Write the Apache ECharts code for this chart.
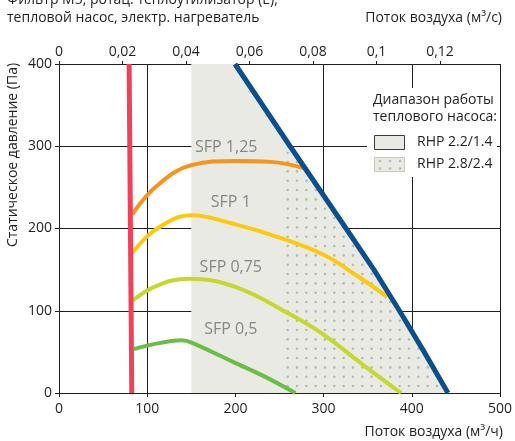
<!DOCTYPE html>
<html><head><meta charset="utf-8">
<script src="https://cdn.jsdelivr.net/npm/echarts@6/dist/echarts.min.js"></script>
<style>html,body{margin:0;padding:0;background:#fff}#c{width:515px;height:441px}</style>
</head><body><div id="c"></div>
<script>
// ---- data (m³/h, Pa) ----
const xTicks = [0, 100, 200, 300, 400, 500];
const yTicks = [0, 100, 200, 300, 400];
const topTicks = [0, 0.02, 0.04, 0.06, 0.08, 0.1, 0.12];

const redX = [79.5, 82.5];
const redY = [400, 0];

const blueX = [199.5, 262, 325.5, 357, 386, 414, 441];
const blueY = [400, 300, 200, 150, 100, 50, 0];

const bandX = [150, 199.5, 262, 325.5, 357, 386, 414, 441];
const bandY = [400, 400, 300, 200, 150, 100, 50, 0];

const dotX = [254, 262, 325.5, 357, 386, 414, 441];
const dotY = [313.5, 300, 200, 150, 100, 50, 0];

const sfp125X = [83, 110, 150, 200, 240, 282];
const sfp125Y = [217, 251, 277, 282, 281, 272];

const sfp1X = [83, 110, 150, 200, 250, 300, 340, 372];
const sfp1Y = [170, 199, 216, 205, 189, 168, 141, 117];

const sfp075X = [83, 110, 147, 200, 263, 300, 345, 388];
const sfp075Y = [112, 130, 139, 129, 95, 71, 34, 0];

const sfp05X = [85, 139, 151, 199, 235, 268];
const sfp05Y = [53.5, 64, 61, 37, 19, 0];

const sfpNames = ['SFP 1,25', 'SFP 1', 'SFP 0,75', 'SFP 0,5'];
const sfpLabelX = [189.6, 194.8, 194.8, 194.8];
const sfpLabelY = [299, 231.5, 152.6, 77];

const legendTitle = ['Диапазон работы', 'теплового насоса:'];
const legendNames = ['RHP 2.2/1.4', 'RHP 2.8/2.4'];

const titleLines = ['Фильтр M5, ротац. теплоутилизатор (E),', 'тепловой насос, электр. нагреватель'];
const topAxisName = 'Поток воздуха (м³/с)';
const bottomAxisName = 'Поток воздуха (м³/ч)';
const yAxisName = 'Статическое давление (Па)';

// ---- styling ----
const FONT = "'Open Sans', 'Noto Sans', sans-serif";
const INK = '#231f20';
const BAND = '#e9eae4';
const DOT = '#b0bfaa';

function zip(a, b) { return a.map((v, i) => [v, b[i]]); }

const pat = document.createElement('canvas');
pat.width = 28; pat.height = 28;
(function () {
  const g = pat.getContext('2d');
  g.fillStyle = DOT;
  for (let i = 0; i < 3; i++) for (let j = 0; j < 3; j++) {
    g.beginPath();
    g.arc(7.67 + i * 9.333, 3.4 + j * 9.333, 1.3, 0, Math.PI * 2);
    g.fill();
  }
})();

const chart = echarts.init(document.getElementById('c'), null, { renderer: 'canvas' });

function curve(xs, ys, color, w, s) {
  return {
    type: 'line', data: zip(xs, ys), smooth: s, symbol: 'none', z: 5,
    lineStyle: { color: color, width: w, cap: 'butt' }, silent: true, animation: false
  };
}

const option = {
  animation: false,
  grid: { left: 59, right: 11, top: 64, bottom: 48 },
  xAxis: [{
    type: 'value', position: 'bottom', min: xTicks[0], max: xTicks[xTicks.length - 1], interval: 100,
    axisLine: { show: true, lineStyle: { color: INK, width: 1 } },
    axisTick: { show: true, length: 4, lineStyle: { color: INK } },
    axisLabel: { color: INK, fontSize: 14, fontFamily: FONT, margin: 9 },
    splitLine: { show: true, lineStyle: { color: INK, width: 1 } }
  }, {
    type: 'value', position: 'top', min: 0, max: 500 / 3600, interval: 0.02,
    axisLine: { show: true, lineStyle: { color: INK, width: 1 } },
    axisTick: { show: true, length: 3, lineStyle: { color: INK } },
    axisLabel: {
      color: INK, fontSize: 14, fontFamily: FONT, margin: 5, showMaxLabel: false,
      formatter: v => {
        const k = topTicks.find(t => Math.abs(t - v) < 1e-6);
        return k === undefined ? '' : String(k).replace('.', ',');
      }
    },
    splitLine: { show: false }
  }],
  yAxis: {
    type: 'value', min: yTicks[0], max: yTicks[yTicks.length - 1], interval: 100,
    axisLine: { show: true, lineStyle: { color: INK, width: 1 } },
    axisTick: { show: true, length: 4, lineStyle: { color: INK } },
    axisLabel: { color: INK, fontSize: 14, fontFamily: FONT, margin: 7 },
    splitLine: { show: true, lineStyle: { color: INK, width: 1 } }
  },
  series: [
    { type: 'line', data: zip(bandX, bandY), symbol: 'none', z: 1, silent: true,
      lineStyle: { width: 0 }, areaStyle: { color: BAND, opacity: 1 } },
    { type: 'line', data: zip(dotX, dotY), symbol: 'none', z: 1, silent: true,
      lineStyle: { width: 0 }, areaStyle: { color: { image: pat, repeat: 'repeat' }, opacity: 1 } },
    curve(sfp125X, sfp125Y, '#f7941d', 4, 0.4),
    curve(sfp1X, sfp1Y, '#ffc90b', 4, 0.4),
    curve(sfp075X, sfp075Y, '#c4d82e', 4, 0.4),
    curve(sfp05X, sfp05Y, '#6abd45', 4, 0.3),
    { type: 'line', data: zip(blueX, blueY), symbol: 'none', z: 6, silent: true,
      lineStyle: { color: '#0b4f8f', width: 5 } },
    { type: 'line', data: zip(redX, redY), symbol: 'none', z: 6, silent: true,
      lineStyle: { color: '#ef4259', width: 5 } },
    { type: 'scatter', z: 4, silent: true, symbolSize: 1, itemStyle: { color: 'rgba(0,0,0,0)' },
      data: sfpNames.map((n, i) => ({ name: n, value: [sfpLabelX[i], sfpLabelY[i]] })),
      label: { show: true, position: 'inside', formatter: p => p.name, color: '#6d6e71',
        fontSize: 16, fontFamily: FONT, backgroundColor: BAND, padding: [0, 3] } }
  ],
  graphic: [
    { type: 'text', x: 7, y: 0, z: 10, style: { text: titleLines[0], font: '14px ' + FONT, fill: INK, textVerticalAlign: 'middle' } },
    { type: 'text', x: 7, y: 18, z: 10, style: { text: titleLines[1], font: '14px ' + FONT, fill: INK, textVerticalAlign: 'middle' } },
    { type: 'text', x: 502, y: 18, z: 10, style: { text: topAxisName, font: '14px ' + FONT, fill: INK, textAlign: 'right', textVerticalAlign: 'middle' } },
    { type: 'text', x: 503, y: 432, z: 10, style: { text: bottomAxisName, font: '14px ' + FONT, fill: INK, textAlign: 'right', textVerticalAlign: 'middle' } },
    { type: 'text', x: 13, y: 155, rotation: Math.PI / 2, z: 10, style: { text: yAxisName, font: '14px ' + FONT, fill: INK, textAlign: 'center', textVerticalAlign: 'middle' } },
    { type: 'rect', z: 8, shape: { x: 367, y: 88, width: 130, height: 89 }, style: { fill: '#fff' } },
    { type: 'text', x: 373, y: 100, z: 10, style: { text: legendTitle[0], font: '14px ' + FONT, fill: INK, textVerticalAlign: 'middle' } },
    { type: 'text', x: 373, y: 117, z: 10, style: { text: legendTitle[1], font: '14px ' + FONT, fill: INK, textVerticalAlign: 'middle' } },
    { type: 'rect', z: 10, shape: { x: 374.5, y: 135.5, width: 30, height: 14 }, style: { fill: BAND, stroke: '#3a3a3a', lineWidth: 1 } },
    { type: 'rect', z: 10, shape: { x: 374.5, y: 157.5, width: 30, height: 14 }, style: { fill: BAND, stroke: '#c3ccbf', lineWidth: 1 } },
    { type: 'circle', z: 11, shape: { cx: 380, cy: 161, r: 1.3 }, style: { fill: DOT } },
    { type: 'circle', z: 11, shape: { cx: 390, cy: 161, r: 1.3 }, style: { fill: DOT } },
    { type: 'circle', z: 11, shape: { cx: 400, cy: 161, r: 1.3 }, style: { fill: DOT } },
    { type: 'circle', z: 11, shape: { cx: 380, cy: 168.5, r: 1.3 }, style: { fill: DOT } },
    { type: 'circle', z: 11, shape: { cx: 390, cy: 168.5, r: 1.3 }, style: { fill: DOT } },
    { type: 'circle', z: 11, shape: { cx: 400, cy: 168.5, r: 1.3 }, style: { fill: DOT } },
    { type: 'text', x: 417, y: 142, z: 10, style: { text: legendNames[0], font: '14px ' + FONT, fill: INK, textVerticalAlign: 'middle' } },
    { type: 'text', x: 417, y: 164.5, z: 10, style: { text: legendNames[1], font: '14px ' + FONT, fill: INK, textVerticalAlign: 'middle' } }
  ]
};
chart.setOption(option);
</script></body></html>
